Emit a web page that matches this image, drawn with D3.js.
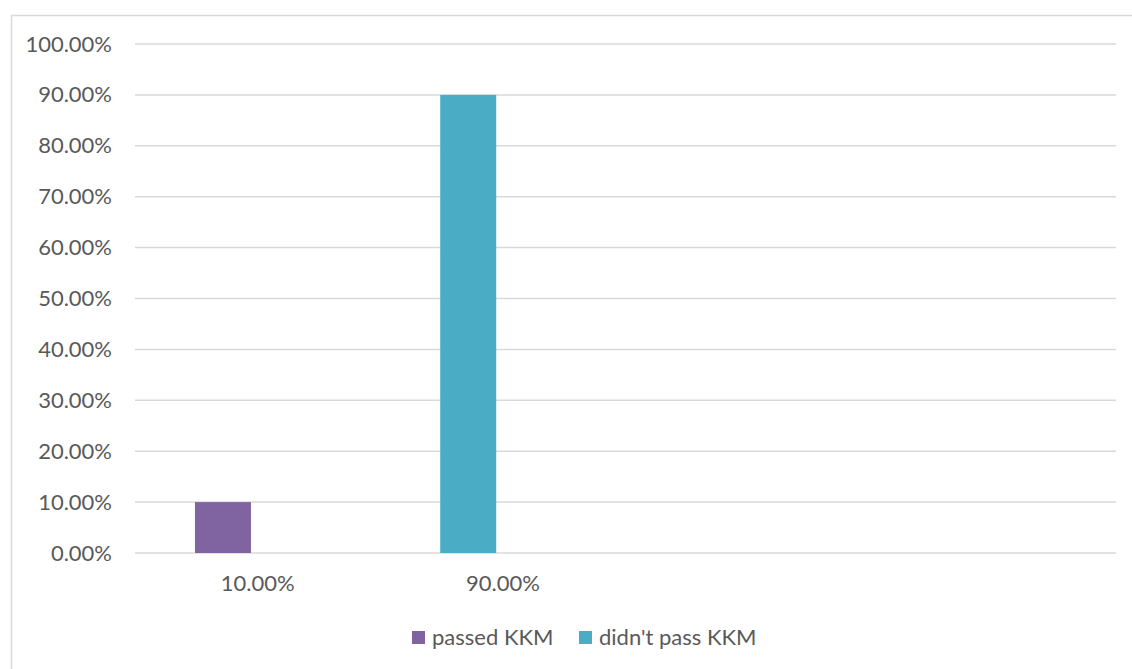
<!DOCTYPE html>
<html>
<head>
<meta charset="utf-8">
<script src="https://cdn.jsdelivr.net/npm/d3@7"></script>
<style>
  html, body { margin: 0; padding: 0; background: #ffffff; }
  svg { display: block; }
  text { font-family: Lato, "Open Sans", sans-serif; fill: #595959; }
</style>
</head>
<body>
<svg id="chart" width="1132" height="669"></svg>
<script>
// Category labels along the x axis (the last two slots are blank)
const categories = ["10.00%", "90.00%", "", " "];
// Series names and values (fractions), one entry per category
const seriesNames = ["passed KKM", "didn't pass KKM"];
const passedValues = [0.10, null, null, null];
const notPassedValues = [null, 0.90, null, null];
// Y axis tick values
const yTicks = [0, 0.1, 0.2, 0.3, 0.4, 0.5, 0.6, 0.7, 0.8, 0.9, 1.0];

const colors = { "passed KKM": "#8064a2", "didn't pass KKM": "#4bacc6" };

const svg = d3.select("#chart");
const W = 1132, H = 669;
const plot = { left: 135, right: 1116, top: 44, bottom: 553 };

// chart-area frame
svg.append("rect")
  .attr("x", 11.5).attr("y", 15.5)
  .attr("width", W + 20).attr("height", H + 20)
  .attr("fill", "#ffffff")
  .attr("stroke", "#d9d9d9").attr("stroke-width", 1.5);

const x0 = d3.scaleBand().domain(categories).range([plot.left, plot.right]);
// each category holds a bar slot and an empty slot
const x1 = d3.scaleBand().domain(["bar", "gap"]).range([0, x0.bandwidth()])
  .paddingInner(0).paddingOuter(1.19).align(0.45);
const y = d3.scaleLinear().domain([0, 1]).range([plot.bottom, plot.top]);

// gridlines
svg.append("g")
  .selectAll("line").data(yTicks).join("line")
  .attr("x1", plot.left).attr("x2", plot.right)
  .attr("y1", d => y(d)).attr("y2", d => y(d))
  .attr("stroke", "#d9d9d9").attr("stroke-width", 1.5);

// y axis labels
const yAxis = d3.axisLeft(y).tickValues(yTicks)
  .tickFormat(d => d3.format(".2f")(d * 100) + "%")
  .tickSize(0).tickPadding(23);
const gy = svg.append("g").attr("transform", `translate(${plot.left},0)`).call(yAxis);
gy.select(".domain").remove();
gy.selectAll("text").attr("font-size", 22).attr("fill", "#595959")
  .style("font-family", "Lato, 'Open Sans', sans-serif");

// x axis labels
const xAxis = d3.axisBottom(x0).tickSize(0).tickPadding(22);
const gx = svg.append("g").attr("transform", `translate(0,${plot.bottom})`).call(xAxis);
gx.select(".domain").remove();
gx.selectAll("text").attr("font-size", 22).attr("fill", "#595959")
  .style("font-family", "Lato, 'Open Sans', sans-serif");

// bars
const rows = [];
categories.forEach((c, i) => {
  [[seriesNames[0], passedValues[i]], [seriesNames[1], notPassedValues[i]]].forEach(([s, v]) => {
    if (v != null) rows.push({ cat: c, series: s, value: v });
  });
});
svg.append("g").selectAll("rect").data(rows).join("rect")
  .attr("x", d => x0(d.cat) + x1("bar"))
  .attr("width", x1.bandwidth())
  .attr("y", d => y(d.value))
  .attr("height", d => y(0) - y(d.value))
  .attr("fill", d => colors[d.series]);

// legend
const legendX = [412, 579];
const lg = svg.append("g").selectAll("g").data(seriesNames).join("g")
  .attr("transform", (d, i) => `translate(${legendX[i]},631)`);
lg.append("rect").attr("width", 13).attr("height", 13).attr("fill", d => colors[d]);
lg.append("text").attr("x", 20).attr("y", 13.5).attr("font-size", 22).text(d => d);
</script>
</body>
</html>
